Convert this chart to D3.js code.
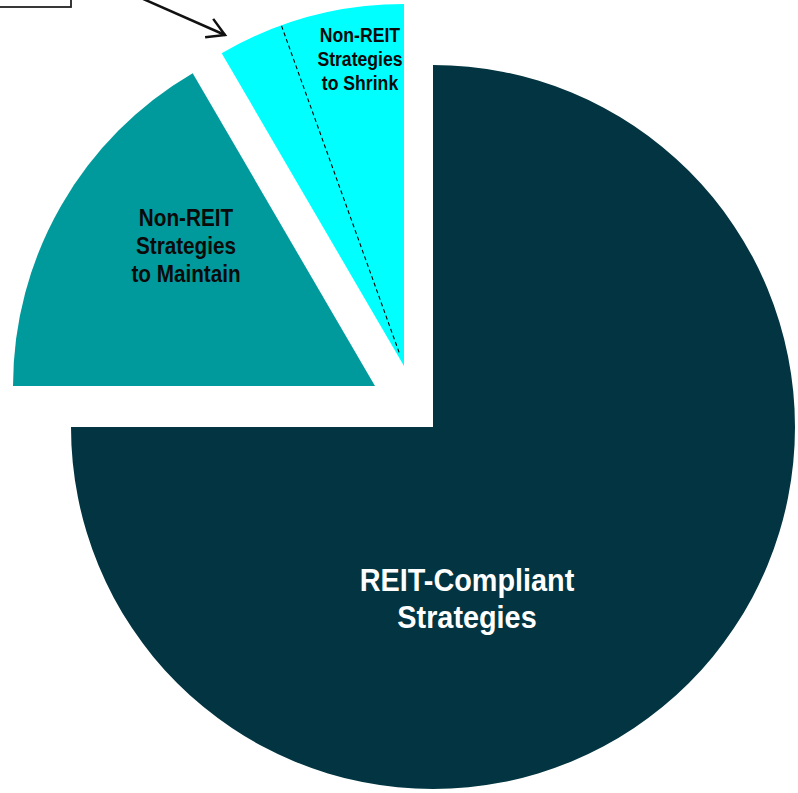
<!DOCTYPE html>
<html>
<head>
<meta charset="utf-8">
<script src="https://cdn.jsdelivr.net/npm/d3@7"></script>
<style>
  html, body { margin: 0; padding: 0; background: #fff; }
  svg { display: block; }
  .slice-label { font-family: "Liberation Sans", Arial, sans-serif; font-weight: bold; }
</style>
</head>
<body>
<div id="chart"></div>
<script>
// slice values (% of portfolio), clockwise from 12 o'clock
const categories = ["REIT-Compliant Strategies", "Non-REIT Strategies to Maintain", "Non-REIT Strategies to Shrink"];
const shares = [75, 16.6, 8.4];
// the shrink slice is split by a dashed divider
const shrinkSplit = [2.9, 5.5];
const labelLines = [
  ["REIT-Compliant", "Strategies"],
  ["Non-REIT", "Strategies", "to Maintain"],
  ["Non-REIT", "Strategies", "to Shrink"]
];

const width = 798, height = 793;
const radius = 362;
const center = [433, 427];
const colors = ["#023541", "#019a9c", "#00ffff"];
const textColors = ["#ffffff", "#0a0a0a", "#0a0a0a"];
// exploded offsets per slice
const explode = [[0, 0], [-58, -41], [-29, -61]];
// label layout: position relative to center, font size, horizontal squeeze, line height
const labelLayout = [
  { x: 34, y: 164, size: 31, sx: 0.93, lh: 37 },
  { x: -247, y: -201, size: 23, sx: 0.9, lh: 28 },
  { x: -73, y: -385, size: 21, sx: 0.84, lh: 24 }
];

const svg = d3.select("#chart")
  .append("svg")
  .attr("width", width)
  .attr("height", height);

const chart = svg.append("g")
  .attr("transform", `translate(${center[0]},${center[1]})`);

const pie = d3.pie().sort(null).value((d) => d);
const arcs = pie(shares);

const arc = d3.arc().innerRadius(0).outerRadius(radius);

const slices = chart.selectAll(".slice")
  .data(arcs)
  .join("g")
  .attr("class", "slice")
  .attr("transform", (d, i) => `translate(${explode[i][0]},${explode[i][1]})`);

slices.append("path")
  .attr("d", arc)
  .attr("fill", (d, i) => colors[i]);

// dashed divider inside the shrink slice
const shrink = arcs[2];
const splitAngle = shrink.startAngle +
  (shrink.endAngle - shrink.startAngle) * shrinkSplit[0] / d3.sum(shrinkSplit);
const rScale = d3.scaleLinear().domain([0, 1]).range([0, radius]);
slices.filter((d, i) => i === 2)
  .append("line")
  .attr("x1", Math.sin(splitAngle) * rScale(0.04))
  .attr("y1", -Math.cos(splitAngle) * rScale(0.04))
  .attr("x2", Math.sin(splitAngle) * rScale(1))
  .attr("y2", -Math.cos(splitAngle) * rScale(1))
  .attr("stroke", "#000")
  .attr("stroke-width", 1.1)
  .attr("stroke-dasharray", "4,3");

// labels
labelLines.forEach((lines, i) => {
  const l = labelLayout[i];
  const t = chart.append("text")
    .attr("class", "slice-label")
    .attr("text-anchor", "middle")
    .attr("transform", `translate(${l.x},0) scale(${l.sx},1)`)
    .attr("fill", textColors[i])
    .attr("font-size", l.size);
  lines.forEach((line, j) => {
    t.append("tspan")
      .attr("x", 0)
      .attr("y", l.y + j * l.lh)
      .text(line);
  });
});

// callout box (cut off at the top) with arrow to the shrink slice
svg.append("rect")
  .attr("x", -20)
  .attr("y", -60)
  .attr("width", 91)
  .attr("height", 67)
  .attr("fill", "#fff")
  .attr("stroke", "#222")
  .attr("stroke-width", 1.8);

const tip = [225, 35], tail = [141, -2];
const ang = Math.atan2(tip[1] - tail[1], tip[0] - tail[0]);
const headLen = 20, headSpread = Math.PI / 6;
svg.append("line")
  .attr("x1", tail[0]).attr("y1", tail[1])
  .attr("x2", tip[0]).attr("y2", tip[1])
  .attr("stroke", "#111")
  .attr("stroke-width", 2.5);
svg.append("path")
  .attr("d", d3.line()([
    [tip[0] - headLen * Math.cos(ang - headSpread), tip[1] - headLen * Math.sin(ang - headSpread)],
    tip,
    [tip[0] - headLen * Math.cos(ang + headSpread), tip[1] - headLen * Math.sin(ang + headSpread)]
  ]))
  .attr("fill", "none")
  .attr("stroke", "#111")
  .attr("stroke-width", 2.5)
  .attr("stroke-linejoin", "miter");
</script>
</body>
</html>
